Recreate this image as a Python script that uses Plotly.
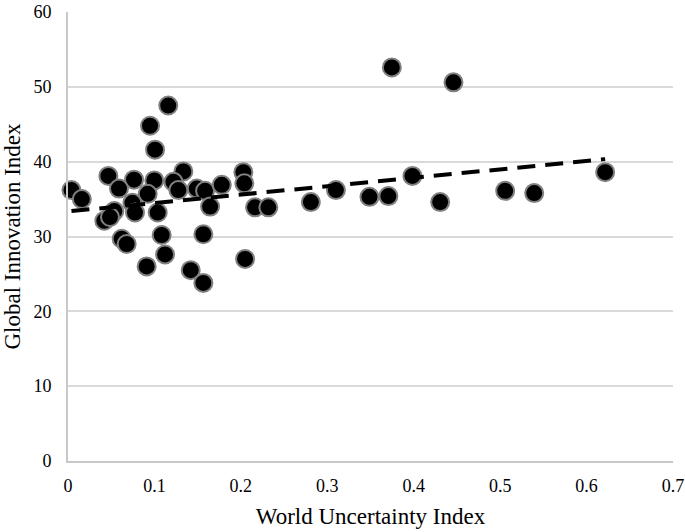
import numpy as np
import plotly.graph_objects as go

wui = [0.004, 0.016, 0.0467, 0.0764, 0.0999, 0.059, 0.0922, 0.0745, 0.0536, 0.0775,
       0.1038, 0.042, 0.0486, 0.0621, 0.0679, 0.1084, 0.1123, 0.091, 0.1007, 0.116,
       0.0949, 0.1335, 0.122, 0.1277, 0.149, 0.1586, 0.1779, 0.2029, 0.204, 0.1644,
       0.2164, 0.2318, 0.1566, 0.2049, 0.142, 0.1566, 0.281, 0.310, 0.3488, 0.3707,
       0.3985, 0.4306, 0.5058, 0.5394, 0.6215, 0.3747, 0.446]
gii = [36.2, 35.0, 38.1, 37.6, 37.5, 36.4, 35.7, 34.5, 33.4, 33.2,
       33.2, 32.1, 32.6, 29.7, 29.0, 30.2, 27.6, 26.0, 41.6, 47.5,
       44.8, 38.7, 37.3, 36.2, 36.4, 36.1, 36.9, 38.6, 37.1, 34.0,
       33.9, 33.9, 30.3, 27.0, 25.5, 23.8, 34.6, 36.2, 35.3, 35.4,
       38.1, 34.6, 36.1, 35.8, 38.6, 52.6, 50.6]

x_ticks = [0, 0.1, 0.2, 0.3, 0.4, 0.5, 0.6, 0.7]
x_tick_labels = ["0", "0.1", "0.2", "0.3", "0.4", "0.5", "0.6", "0.7"]
y_ticks = [0, 10, 20, 30, 40, 50, 60]

slope, intercept = np.polyfit(wui, gii, 1)
tx = np.array([min(wui), max(wui)])
ty = slope * tx + intercept

font = "Liberation Serif, Times New Roman, serif"

fig = go.Figure()
fig.add_trace(go.Scatter(
    x=wui, y=gii, mode="markers",
    marker=dict(color="black", size=18, line=dict(color="#808080", width=2)),
    showlegend=False, cliponaxis=False))
fig.add_trace(go.Scatter(
    x=tx, y=ty, mode="lines",
    line=dict(color="black", width=4, dash="18px,10px"),
    showlegend=False))

fig.update_layout(
    width=685, height=532,
    margin=dict(l=68, r=12, t=12, b=71),
    paper_bgcolor="white", plot_bgcolor="white",
    font=dict(family=font, color="black", size=18),
)
fig.update_xaxes(
    range=[0, 0.7], tickvals=x_ticks, ticktext=x_tick_labels,
    showgrid=False, zeroline=False,
    showline=True, linecolor="#c8c8c8", linewidth=2,
    ticks="outside", ticklen=7, tickcolor="rgba(0,0,0,0)",
    tickfont=dict(size=18, family=font),
    title=dict(text="World Uncertainty Index", font=dict(size=23, family=font), standoff=13),
    automargin=False,
)
fig.update_yaxes(
    range=[0, 60], tickvals=y_ticks,
    showgrid=True, gridcolor="#d9d9d9", gridwidth=1.5,
    zeroline=False,
    showline=True, linecolor="#c8c8c8", linewidth=2,
    ticks="outside", ticklen=11, tickcolor="rgba(0,0,0,0)",
    tickfont=dict(size=18, family=font),
    title=dict(text="Global Innovation Index", font=dict(size=23, family=font), standoff=12),
    automargin=False,
)

fig.write_html("out.html", config={"displayModeBar": False},
               post_script="document.body.style.margin='0';")
